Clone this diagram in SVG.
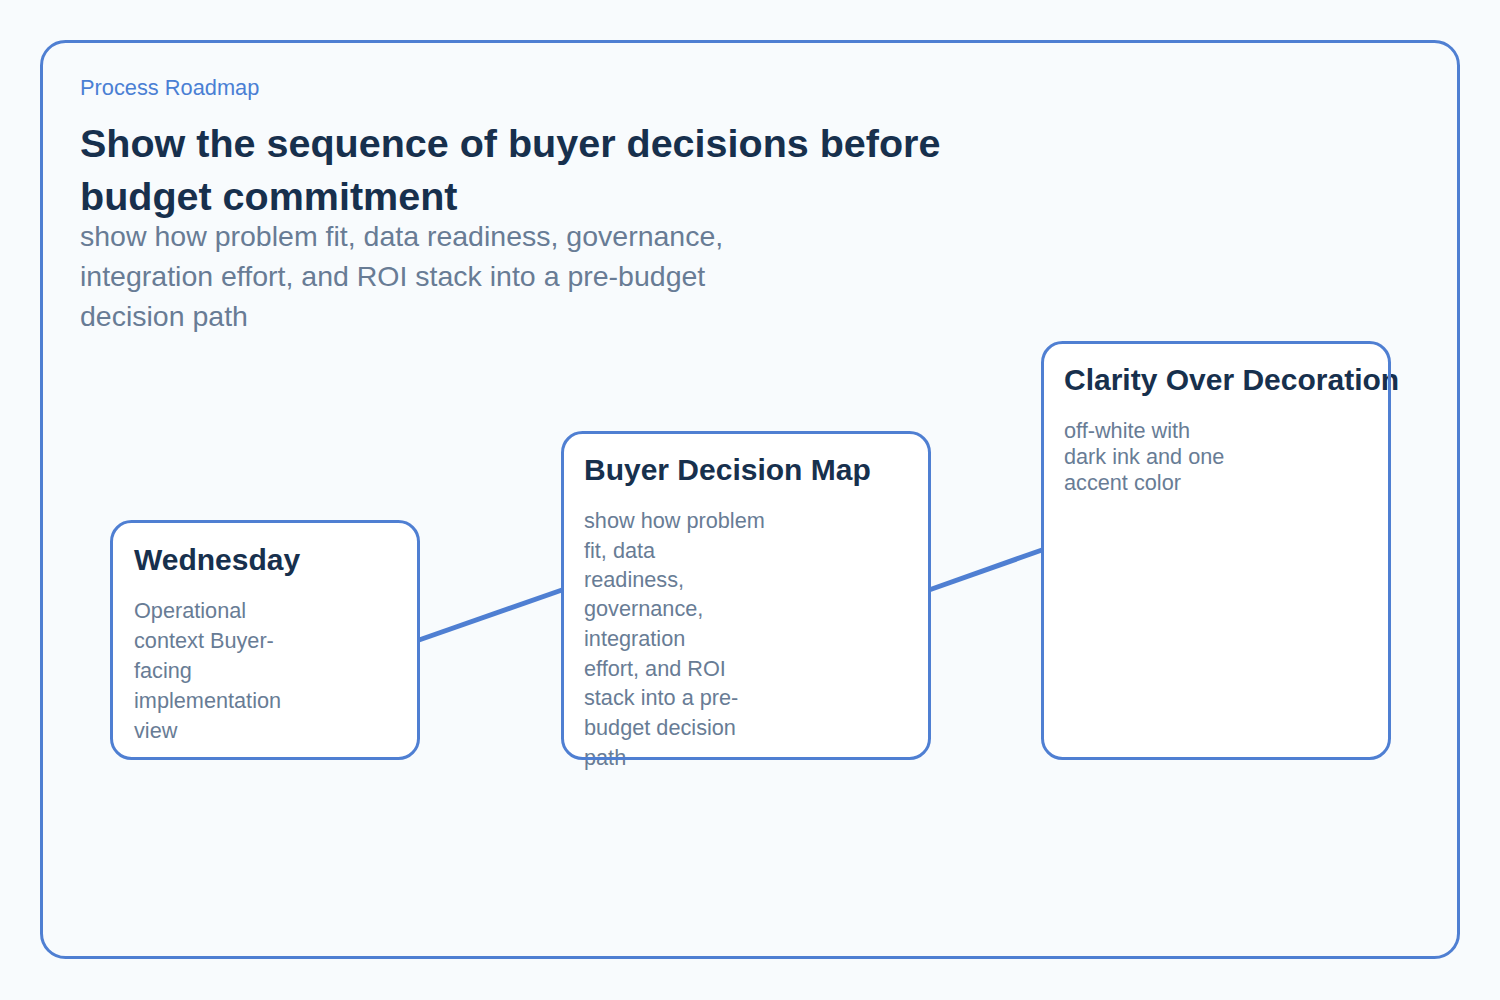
<svg xmlns="http://www.w3.org/2000/svg" width="1500" height="1000" viewBox="0 0 1500 1000">
<style>
.frame{fill:#f8fbfd;stroke:#4f7fd2;stroke-width:3}
.nfill{fill:#ffffff;stroke:none}
.nline{fill:none;stroke:#4f7fd2;stroke-width:3}
.edge{stroke:#4f7fd2;stroke-width:5;fill:none}
.eyebrow{font-family:"Liberation Sans",Arial,sans-serif;font-size:21.8px;fill:#4a7fd4}
.title{font-family:"Liberation Sans",Arial,sans-serif;font-size:39.5px;font-weight:bold;fill:#17304d}
.sub{font-family:"Liberation Sans",Arial,sans-serif;font-size:28.5px;fill:#687c95}
.ntitle{font-family:"Liberation Sans",Arial,sans-serif;font-size:30px;font-weight:bold;fill:#17304d}
.nbody{font-family:"Liberation Sans",Arial,sans-serif;font-size:21.7px;fill:#687c95}
</style>
<rect x="0" y="0" width="1500" height="1000" fill="#f8fbfd"/>
<rect class="frame" x="41.5" y="41.5" width="1417" height="916" rx="24"/>
<text class="eyebrow" x="80" y="95">Process Roadmap</text>
<text class="title" x="80" y="157">Show the sequence of buyer decisions before</text>
<text class="title" x="80" y="210">budget commitment</text>
<text class="sub" x="80" y="246">show how problem fit, data readiness, governance,</text>
<text class="sub" x="80" y="286">integration effort, and ROI stack into a pre-budget</text>
<text class="sub" x="80" y="326">decision path</text>
<g id="connectors">
<line class="edge" x1="419" y1="640" x2="562" y2="590"/>
<line class="edge" x1="929" y1="590" x2="1042" y2="550"/>
</g>
<g id="node-wednesday">
<rect class="nfill" x="111.5" y="521.5" width="307" height="237" rx="20"/>
<text class="ntitle" x="134" y="570">Wednesday</text>
<text class="nbody" x="134" y="618">Operational</text>
<text class="nbody" x="134" y="648">context Buyer-</text>
<text class="nbody" x="134" y="678">facing</text>
<text class="nbody" x="134" y="708">implementation</text>
<text class="nbody" x="134" y="738">view</text>
<rect class="nline" x="111.5" y="521.5" width="307" height="237" rx="20"/>
</g>
<g id="node-buyer-decision-map">
<rect class="nfill" x="562.5" y="432.5" width="367" height="326" rx="20"/>
<text class="ntitle" x="584" y="480">Buyer Decision Map</text>
<text class="nbody" x="584" y="528">show how problem</text>
<text class="nbody" x="584" y="558">fit, data</text>
<text class="nbody" x="584" y="587">readiness,</text>
<text class="nbody" x="584" y="616">governance,</text>
<text class="nbody" x="584" y="646">integration</text>
<text class="nbody" x="584" y="676">effort, and ROI</text>
<text class="nbody" x="584" y="705">stack into a pre-</text>
<text class="nbody" x="584" y="735">budget decision</text>
<text class="nbody" x="584" y="765">path</text>
<rect class="nline" x="562.5" y="432.5" width="367" height="326" rx="20"/>
</g>
<g id="node-clarity">
<rect class="nfill" x="1042.5" y="342.5" width="347" height="416" rx="20"/>
<text class="ntitle" x="1064" y="390">Clarity Over Decoration</text>
<text class="nbody" x="1064" y="438">off-white with</text>
<text class="nbody" x="1064" y="464">dark ink and one</text>
<text class="nbody" x="1064" y="490">accent color</text>
<rect class="nline" x="1042.5" y="342.5" width="347" height="416" rx="20"/>
</g>
</svg>
